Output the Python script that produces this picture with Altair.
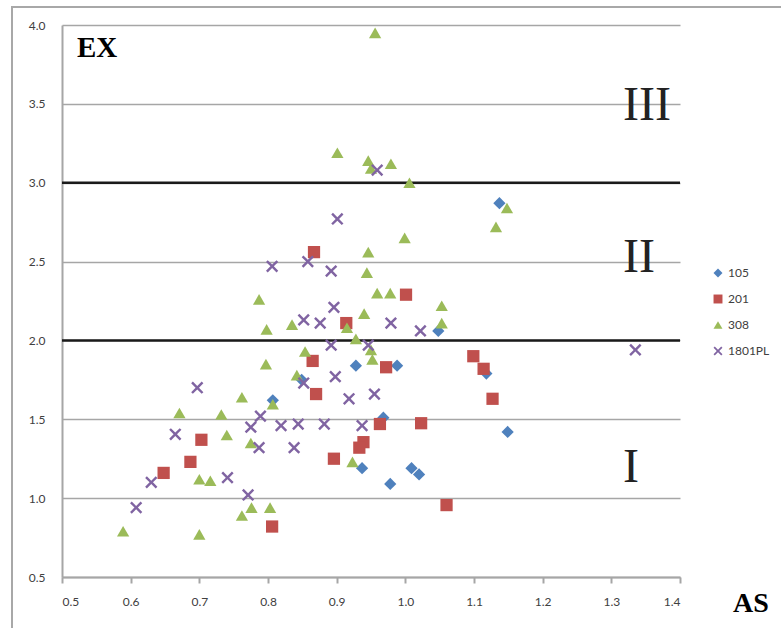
import altair as alt
import pandas as pd

# ---- data ----
as_105 = [1.137, 1.048, 0.988, 0.928, 1.118, 0.849, 0.807, 0.968, 1.149, 0.937, 1.009, 1.020, 0.978]
ex_105 = [2.87, 2.06, 1.84, 1.84, 1.79, 1.75, 1.62, 1.51, 1.42, 1.19, 1.19, 1.15, 1.09]

as_201 = [0.867, 1.001, 0.914, 0.865, 0.972, 1.099, 1.114, 0.870, 1.127, 0.963, 1.023,
          0.703, 0.939, 0.933, 0.896, 0.687, 0.648, 0.806, 1.060]
ex_201 = [2.56, 2.29, 2.11, 1.87, 1.83, 1.90, 1.82, 1.66, 1.63, 1.47, 1.475,
          1.37, 1.355, 1.32, 1.25, 1.23, 1.16, 0.82, 0.956]

as_308 = [0.956, 0.901, 0.946, 0.950, 0.979, 1.006, 1.148, 1.132, 0.999, 0.946,
          0.944, 0.959, 0.978, 0.787, 1.053, 0.940, 1.053, 0.835, 0.798, 0.915,
          0.928, 0.950, 0.952, 0.854, 0.797, 0.842, 0.762, 0.807, 0.671, 0.732,
          0.740, 0.775, 0.923, 0.700, 0.716, 0.762, 0.776, 0.803, 0.589, 0.700]
ex_308 = [3.95, 3.19, 3.14, 3.09, 3.12, 3.00, 2.84, 2.72, 2.65, 2.56,
          2.43, 2.30, 2.30, 2.26, 2.22, 2.17, 2.11, 2.10, 2.07, 2.08,
          2.01, 1.94, 1.88, 1.93, 1.85, 1.78, 1.64, 1.595, 1.54, 1.53,
          1.40, 1.35, 1.23, 1.12, 1.11, 0.89, 0.94, 0.94, 0.79, 0.77]

as_1801 = [0.959, 0.901, 0.806, 0.858, 0.892, 0.896, 0.852, 0.876, 0.979, 1.022,
           0.892, 0.946, 0.852, 0.898, 0.955, 0.918, 0.697, 0.789, 0.775, 0.819,
           0.844, 0.882, 0.937, 0.665, 0.838, 0.787, 0.630, 0.741, 0.771, 0.608, 1.335]
ex_1801 = [3.08, 2.77, 2.47, 2.50, 2.44, 2.21, 2.13, 2.11, 2.11, 2.06,
           1.97, 1.97, 1.73, 1.77, 1.66, 1.63, 1.70, 1.52, 1.45, 1.46,
           1.47, 1.47, 1.46, 1.405, 1.32, 1.32, 1.10, 1.13, 1.02, 0.94, 1.94]

series_names = ["105", "201", "308", "1801PL"]
series_as = [as_105, as_201, as_308, as_1801]
series_ex = [ex_105, ex_201, ex_308, ex_1801]

x_ticks = [0.5, 0.6, 0.7, 0.8, 0.9, 1.0, 1.1, 1.2, 1.3, 1.4]
y_ticks = [0.5, 1.0, 1.5, 2.0, 2.5, 3.0, 3.5, 4.0]
boundaries = [2.0, 3.0]
region_labels = ["I", "II", "III"]
region_as = [1.317, 1.317, 1.317]
region_ex = [1.10, 2.435, 3.40]

colors = ["#4F81BD", "#C0504D", "#9BBB59", "#8064A2"]
x_path = ("M-1,-0.72L-0.72,-1L0,-0.28L0.72,-1L1,-0.72L0.28,0L1,0.72L0.72,1"
          "L0,0.28L-0.72,1L-1,0.72L-0.28,0Z")
shapes = ["diamond", "square", "triangle-up", x_path]

rows = []
for name, xs, ys in zip(series_names, series_as, series_ex):
    for a, e in zip(xs, ys):
        rows.append({"series": name, "AS": a, "EX": e})
pts = pd.DataFrame(rows)

xscale = alt.Scale(domain=[0.5, 1.4], nice=False, zero=False)
yscale = alt.Scale(domain=[0.5, 4.0], nice=False, zero=False)

font = "Lato"
lab_col = "#404040"
ax_col = "#a6a6a6"

legend = alt.Legend(title=None, orient="none", legendX=650, legendY=242,
                    labelFont=font, labelFontSize=12, labelColor=lab_col,
                    symbolSize=80, rowPadding=14, padding=0,
                    labelOffset=4, symbolStrokeWidth=0)

points = alt.Chart(pts).mark_point(filled=True, opacity=1, size=150).encode(
    x=alt.X("AS:Q", scale=xscale,
            axis=alt.Axis(values=x_ticks, format=".1f", grid=False, title=None,
                          domainColor=ax_col, domainWidth=2, tickColor=ax_col,
                          tickWidth=2, tickSize=6, labelPadding=13,
                          labelFont=font, labelFontSize=12, labelColor=lab_col)),
    y=alt.Y("EX:Q", scale=yscale,
            axis=alt.Axis(values=y_ticks, format=".1f", grid=True, title=None,
                          gridColor=ax_col, gridWidth=1.5, ticks=False,
                          domainColor=ax_col, domainWidth=2, labelPadding=17,
                          labelFont=font, labelFontSize=12, labelColor=lab_col)),
    color=alt.Color("series:N", scale=alt.Scale(domain=series_names, range=colors), legend=legend),
    shape=alt.Shape("series:N", scale=alt.Scale(domain=series_names, range=shapes), legend=legend),
    order=alt.Order("idx:Q"),
).transform_calculate(idx="datum.series == '105' ? 0 : datum.series == '201' ? 1 : datum.series == '308' ? 2 : 3")

bounds = alt.Chart(pd.DataFrame({"EX": boundaries})).mark_rule(
    color="#1a1a1a", strokeWidth=2.5).encode(y=alt.Y("EX:Q", scale=yscale))

regions = alt.Chart(pd.DataFrame({"label": region_labels, "AS": region_as, "EX": region_ex})).mark_text(
    font="Liberation Serif", fontSize=48, color="#222222", align="left", baseline="alphabetic"
).encode(x=alt.X("AS:Q", scale=xscale), y=alt.Y("EX:Q", scale=yscale), text="label:N")

ex_title = alt.Chart(pd.DataFrame({"t": ["EX"]})).mark_text(
    font="Liberation Serif", fontSize=29, fontWeight="bold", color="#000000",
    align="left", baseline="alphabetic").encode(x=alt.value(15), y=alt.value(32), text="t:N")

as_title = alt.Chart(pd.DataFrame({"t": ["AS"]})).mark_text(
    font="Liberation Serif", fontSize=28, fontWeight="bold", color="#000000",
    align="left", baseline="alphabetic").encode(x=alt.value(671), y=alt.value(587), text="t:N")

frame = alt.Chart(pd.DataFrame({"a": [0]})).mark_rect(
    filled=False, fill="transparent", stroke="#a8a8a8", strokeWidth=2, clip=False
).encode(x=alt.value(-50), x2=alt.value(800), y=alt.value(-18), y2=alt.value(700))

chart = alt.layer(frame, bounds, regions, points, ex_title, as_title).properties(
    width=618, height=552, autosize="none",
    padding={"left": 62, "top": 25, "right": 101, "bottom": 51},
    background="white",
).configure_view(stroke=None)

chart.save("out.html", embed_options={"renderer": "svg", "actions": False})
